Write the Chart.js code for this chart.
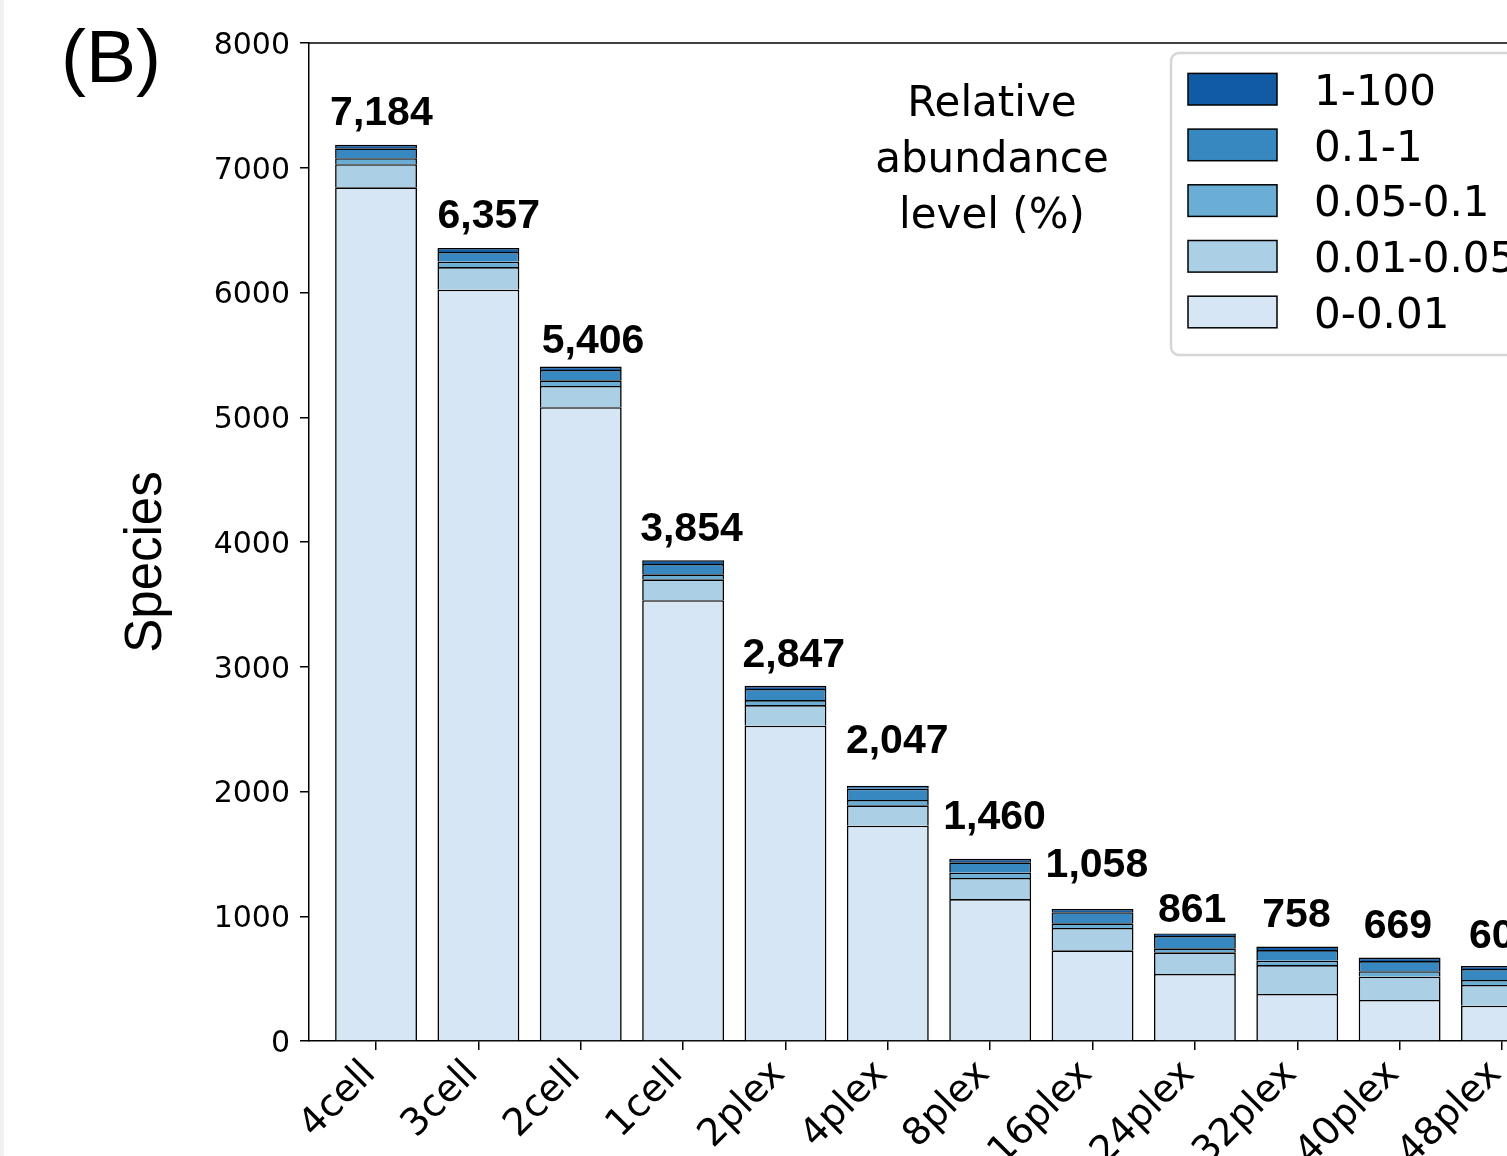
<!DOCTYPE html>
<html>
<head>
<meta charset="utf-8">
<script src="https://cdn.jsdelivr.net/npm/chart.js@4.4.1/dist/chart.umd.min.js"></script>
<style>
  html, body { margin: 0; padding: 0; background: #fff; overflow: hidden; width: 1507px; height: 1156px; }
  #wrap { position: absolute; left: 0; top: 0; width: 1700px; height: 1156px; }
  #edge { position: absolute; left: 0; top: 0; width: 4px; height: 1156px; background: #f0f0f0; }
</style>
</head>
<body>
<div id="wrap"><canvas id="c" width="1700" height="1156"></canvas></div>
<div id="edge"></div>
<script>
// Species counts per sample, split by relative abundance level (%)
const categories = ['4cell', '3cell', '2cell', '1cell', '2plex', '4plex', '8plex', '16plex', '24plex', '32plex', '40plex', '48plex'];
const levels = ['0-0.01', '0.01-0.05', '0.05-0.1', '0.1-1', '1-100'];

const level_0_001   = [6843, 6022, 5080, 3533, 2527, 1726, 1138, 727, 537, 377, 329, 283];
const level_001_005 = [185, 182, 171, 168, 166, 163, 169, 179, 174, 232, 186, 166];
const level_005_01  = [48, 43, 45, 40, 40, 43, 42, 37, 32, 35, 44, 40];
const level_01_1    = [80, 78, 83, 83, 89, 90, 83, 89, 99, 85, 82, 88];
const level_1_100   = [28, 32, 27, 30, 25, 25, 28, 26, 19, 29, 28, 24];

const yTicks = [0, 1000, 2000, 3000, 4000, 5000, 6000, 7000, 8000];

const series = [level_0_001, level_001_005, level_005_01, level_01_1, level_1_100];
const fills = ['#d6e6f4', '#abd0e6', '#6aaed6', '#3787c0', '#105ba4'];

// placement of each total: pixels above the bar top, and sideways from the bar's left edge
const labelGap = [20, 20, 14, 19, 19, 33, 30, 32, 12, 19, 20, 18];
const labelShift = [-5, 0, 2, -2, -2, -1, -6, -6, 4, 6, 5, 8];

const totals = categories.map((_, i) => series.reduce((s, arr) => s + arr[i], 0));

const datasets = levels.map((name, k) => ({
  label: name,
  data: series[k].map((v, i) => ({ x: i, y: v })),
  backgroundColor: fills[k],
  borderColor: '#000',
  borderWidth: 1.6,
  borderSkipped: 'bottom',
  barPercentage: 0.8,
  categoryPercentage: 1.0
}));

const TICK_FONT = { family: 'DejaVu Sans', size: 30 };

// frame line along the top of the plot
const topSpine = {
  id: 'topSpine',
  afterDraw(chart) {
    const { ctx, chartArea: a } = chart;
    ctx.save();
    ctx.strokeStyle = '#000';
    ctx.lineWidth = 1.5;
    ctx.beginPath();
    ctx.moveTo(a.left, a.top);
    ctx.lineTo(a.right + 1, a.top);
    ctx.stroke();
    ctx.restore();
  }
};

// total above each stacked bar
const totalLabels = {
  id: 'totalLabels',
  afterDatasetsDraw(chart) {
    const { ctx } = chart;
    const topMeta = chart.getDatasetMeta(chart.data.datasets.length - 1);
    ctx.save();
    ctx.font = 'bold 41px "Liberation Sans", Arial, sans-serif';
    ctx.fillStyle = '#000';
    ctx.textAlign = 'left';
    ctx.textBaseline = 'alphabetic';
    topMeta.data.forEach((bar, i) => {
      const left = bar.x - bar.width / 2;
      ctx.fillText(totals[i].toLocaleString('en-US'), left + labelShift[i], bar.y - labelGap[i]);
    });
    ctx.restore();
  }
};

// panel tag, axis title, legend and legend title
const annotations = {
  id: 'annotations',
  afterDraw(chart) {
    const { ctx } = chart;
    ctx.save();
    ctx.fillStyle = '#000';

    ctx.font = '75px "Liberation Sans", Arial, sans-serif';
    ctx.textAlign = 'left';
    ctx.textBaseline = 'alphabetic';
    ctx.fillText('(B)', 61, 82);

    ctx.save();
    ctx.translate(161, 562);
    ctx.rotate(-Math.PI / 2);
    ctx.font = '51px "Liberation Sans", Arial, sans-serif';
    ctx.textAlign = 'center';
    ctx.fillText('Species', 0, 0);
    ctx.restore();

    ctx.font = '42px "DejaVu Sans"';
    ctx.textAlign = 'center';
    ['Relative', 'abundance', 'level (%)'].forEach((line, r) => {
      ctx.fillText(line, 992, 116 + r * 56);
    });

    // legend frame
    const fx = 1171, fy = 53, fw = 398, fh = 302, rad = 8;
    ctx.beginPath();
    ctx.moveTo(fx + rad, fy);
    ctx.arcTo(fx + fw, fy, fx + fw, fy + fh, rad);
    ctx.arcTo(fx + fw, fy + fh, fx, fy + fh, rad);
    ctx.arcTo(fx, fy + fh, fx, fy, rad);
    ctx.arcTo(fx, fy, fx + fw, fy, rad);
    ctx.closePath();
    ctx.fillStyle = 'rgba(255,255,255,0.8)';
    ctx.fill();
    ctx.strokeStyle = '#d6d6d6';
    ctx.lineWidth = 2.5;
    ctx.stroke();

    // legend entries, highest level first
    ctx.font = '42px "DejaVu Sans"';
    ctx.textAlign = 'left';
    const order = [4, 3, 2, 1, 0];
    order.forEach((k, r) => {
      const cy = 89.2 + r * 55.7;
      ctx.fillStyle = fills[k];
      ctx.fillRect(1188, cy - 15.8, 89, 31.6);
      ctx.strokeStyle = '#000';
      ctx.lineWidth = 1.5;
      ctx.strokeRect(1188, cy - 15.8, 89, 31.6);
      ctx.fillStyle = '#000';
      ctx.fillText(levels[k], 1314, cy + 15.8);
    });
    ctx.restore();
  }
};

new Chart(document.getElementById('c'), {
  type: 'bar',
  data: { datasets },
  plugins: [topSpine, totalLabels, annotations],
  options: {
    responsive: false,
    animation: false,
    devicePixelRatio: 1,
    layout: { padding: { top: 43, left: 0, right: 110, bottom: 0 } },
    plugins: { legend: { display: false }, tooltip: { enabled: false } },
    scales: {
      x: {
        type: 'linear',
        stacked: true,
        min: -0.655,
        max: 11.86,
        offset: false,
        afterBuildTicks(scale) { scale.ticks = categories.map((_, i) => ({ value: i })); },
        afterFit(scale) { scale.height = 115; },
        ticks: {
          autoSkip: false,
          minRotation: 45,
          maxRotation: 45,
          padding: 2,
          labelOffset: -6,
          color: '#000',
          font: { family: 'DejaVu Sans', size: 38 },
          callback: (v) => categories[v]
        },
        grid: { offset: false, drawOnChartArea: false, drawTicks: true, tickLength: 9, color: '#000', lineWidth: 1.5 },
        border: { display: true, color: '#000', width: 1.5 }
      },
      y: {
        stacked: true,
        min: 0,
        max: 8000,
        afterBuildTicks(scale) { scale.ticks = yTicks.map((v) => ({ value: v })); },
        afterFit(scale) { scale.width = 309; },
        ticks: { padding: 10, labelOffset: 3, color: '#000', font: TICK_FONT, callback: (v) => String(v) },
        grid: { drawOnChartArea: false, drawTicks: true, tickLength: 9, color: '#000', lineWidth: 1.5 },
        border: { display: true, color: '#000', width: 1.5 }
      }
    }
  }
});
</script>
</body>
</html>
